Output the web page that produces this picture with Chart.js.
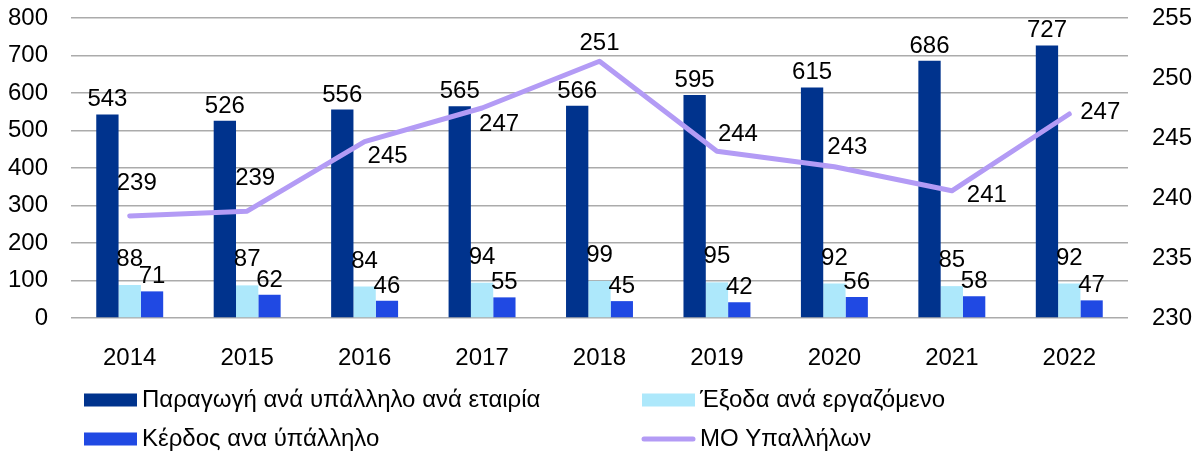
<!DOCTYPE html>
<html>
<head>
<meta charset="utf-8">
<script src="https://cdn.jsdelivr.net/npm/chart.js@4.4.1/dist/chart.umd.min.js"></script>
<style>
  html, body { margin: 0; padding: 0; background: #fff; }
  #wrap { width: 1199px; height: 454px; position: relative; }
</style>
</head>
<body>
<div id="wrap"><canvas id="c"></canvas></div>
<script>
const years = ['2014','2015','2016','2017','2018','2019','2020','2021','2022'];
const productionPerEmployee = [543, 526, 556, 565, 566, 595, 615, 686, 727];
const expensePerWorker = [88, 87, 84, 94, 99, 95, 92, 85, 92];
const profitPerEmployee = [71, 62, 46, 55, 45, 42, 56, 58, 47];
const avgEmployees = [238.5, 238.9, 244.7, 247.5, 251.4, 243.9, 242.6, 240.6, 247.0];
const avgEmployeesLabels = ['239','239','245','247','251','244','243','241','247'];
const leftTicks = [0, 800, 100];
const rightTicks = [230, 255, 5];

const FONT = "'Liberation Sans', Arial, Helvetica, sans-serif";
const FS = 24;
const COLORS = ['#00338D', '#ADE8FB', '#2049E3', '#B39BF5'];

// label placement offsets for the line labels (dx, dy from point)
const lineLabelOffsets = [[7,-33],[8,-33],[23,15],[17,16],[0,-18],[21,-17],[13,-19],[35,5],[31,-2]];

const labelPlugin = {
  id: 'valueLabels',
  afterDatasetsDraw(chart) {
    const ctx = chart.ctx;
    ctx.save();
    ctx.font = FS + 'px ' + FONT;
    ctx.fillStyle = '#000';
    ctx.textAlign = 'center';
    chart.data.datasets.forEach((ds, di) => {
      const meta = chart.getDatasetMeta(di);
      meta.data.forEach((el, i) => {
        if (ds.type === 'line') {
          const o = lineLabelOffsets[i];
          ctx.textBaseline = 'middle';
          ctx.fillText(avgEmployeesLabels[i], el.x + o[0], el.y + o[1]);
        } else {
          ctx.textBaseline = 'alphabetic';
          const gap = di === 1 ? 19 : 8;
          ctx.fillText(String(ds.data[i]), el.x, el.y - gap);
        }
      });
    });
    ctx.restore();
  }
};

const legendPlugin = {
  id: 'gridLegend',
  afterDraw(chart) {
    const ctx = chart.ctx;
    const items = [
      {ds: 0, x: 84, y: 400},
      {ds: 1, x: 642, y: 400},
      {ds: 2, x: 84, y: 439},
      {ds: 3, x: 642, y: 439}
    ];
    ctx.save();
    ctx.font = FS + 'px ' + FONT;
    ctx.textBaseline = 'middle';
    ctx.textAlign = 'left';
    items.forEach(it => {
      const ds = chart.data.datasets[it.ds];
      if (ds.type === 'line') {
        ctx.strokeStyle = ds.borderColor;
        ctx.lineWidth = 5;
        ctx.lineCap = 'round';
        ctx.beginPath();
        ctx.moveTo(it.x + 2, it.y);
        ctx.lineTo(it.x + 51, it.y);
        ctx.stroke();
      } else {
        ctx.fillStyle = ds.backgroundColor;
        ctx.fillRect(it.x, it.y - 6.5, 53, 13);
      }
      ctx.fillStyle = '#000';
      ctx.fillText(ds.label, it.x + 58, it.y);
    });
    ctx.restore();
  }
};

function fixVertical(s) {
  s.width = 71;
  s.paddingTop = 12;
  s.paddingBottom = 12;
}

new Chart(document.getElementById('c'), {
  data: {
    labels: years,
    datasets: [
      { type: 'bar', label: 'Παραγωγή ανά υπάλληλο ανά εταιρία', data: productionPerEmployee,
        backgroundColor: COLORS[0], yAxisID: 'y', order: 1,
        categoryPercentage: 0.57, barPercentage: 1.0 },
      { type: 'bar', label: 'Έξοδα ανά εργαζόμενο', data: expensePerWorker,
        backgroundColor: COLORS[1], yAxisID: 'y', order: 1,
        categoryPercentage: 0.57, barPercentage: 1.0 },
      { type: 'bar', label: 'Κέρδος ανα ύπάλληλο', data: profitPerEmployee,
        backgroundColor: COLORS[2], yAxisID: 'y', order: 1,
        categoryPercentage: 0.57, barPercentage: 1.0 },
      { type: 'line', label: 'ΜΟ Υπαλλήλων', data: avgEmployees,
        borderColor: COLORS[3], backgroundColor: COLORS[3], borderWidth: 5,
        pointRadius: 0, tension: 0, yAxisID: 'y1', order: 0, fill: false,
        borderCapStyle: 'round', borderJoinStyle: 'round' }
    ]
  },
  options: {
    responsive: true,
    maintainAspectRatio: false,
    animation: false,
    layout: { padding: { top: 18, left: 0, right: 0, bottom: 0 } },
    plugins: { legend: { display: false }, tooltip: { enabled: false } },
    scales: {
      x: {
        grid: { display: false },
        border: { display: false },
        ticks: { color: '#000', font: { family: FONT, size: FS }, padding: 18, maxRotation: 0 },
        afterFit(s) { s.height = 136; }
      },
      y: {
        position: 'left',
        min: leftTicks[0], max: leftTicks[1],
        ticks: { stepSize: leftTicks[2], color: '#000', font: { family: FONT, size: FS }, padding: 23 },
        grid: { color: '#ABABAB', lineWidth: 1.5, drawTicks: false },
        border: { display: false },
        afterFit: fixVertical
      },
      y1: {
        position: 'right',
        min: rightTicks[0], max: rightTicks[1],
        ticks: { stepSize: rightTicks[2], color: '#000', font: { family: FONT, size: FS }, padding: 24 },
        grid: { display: false, drawTicks: false },
        border: { display: false },
        afterFit: fixVertical
      }
    }
  },
  plugins: [labelPlugin, legendPlugin]
});
</script>
</body>
</html>
